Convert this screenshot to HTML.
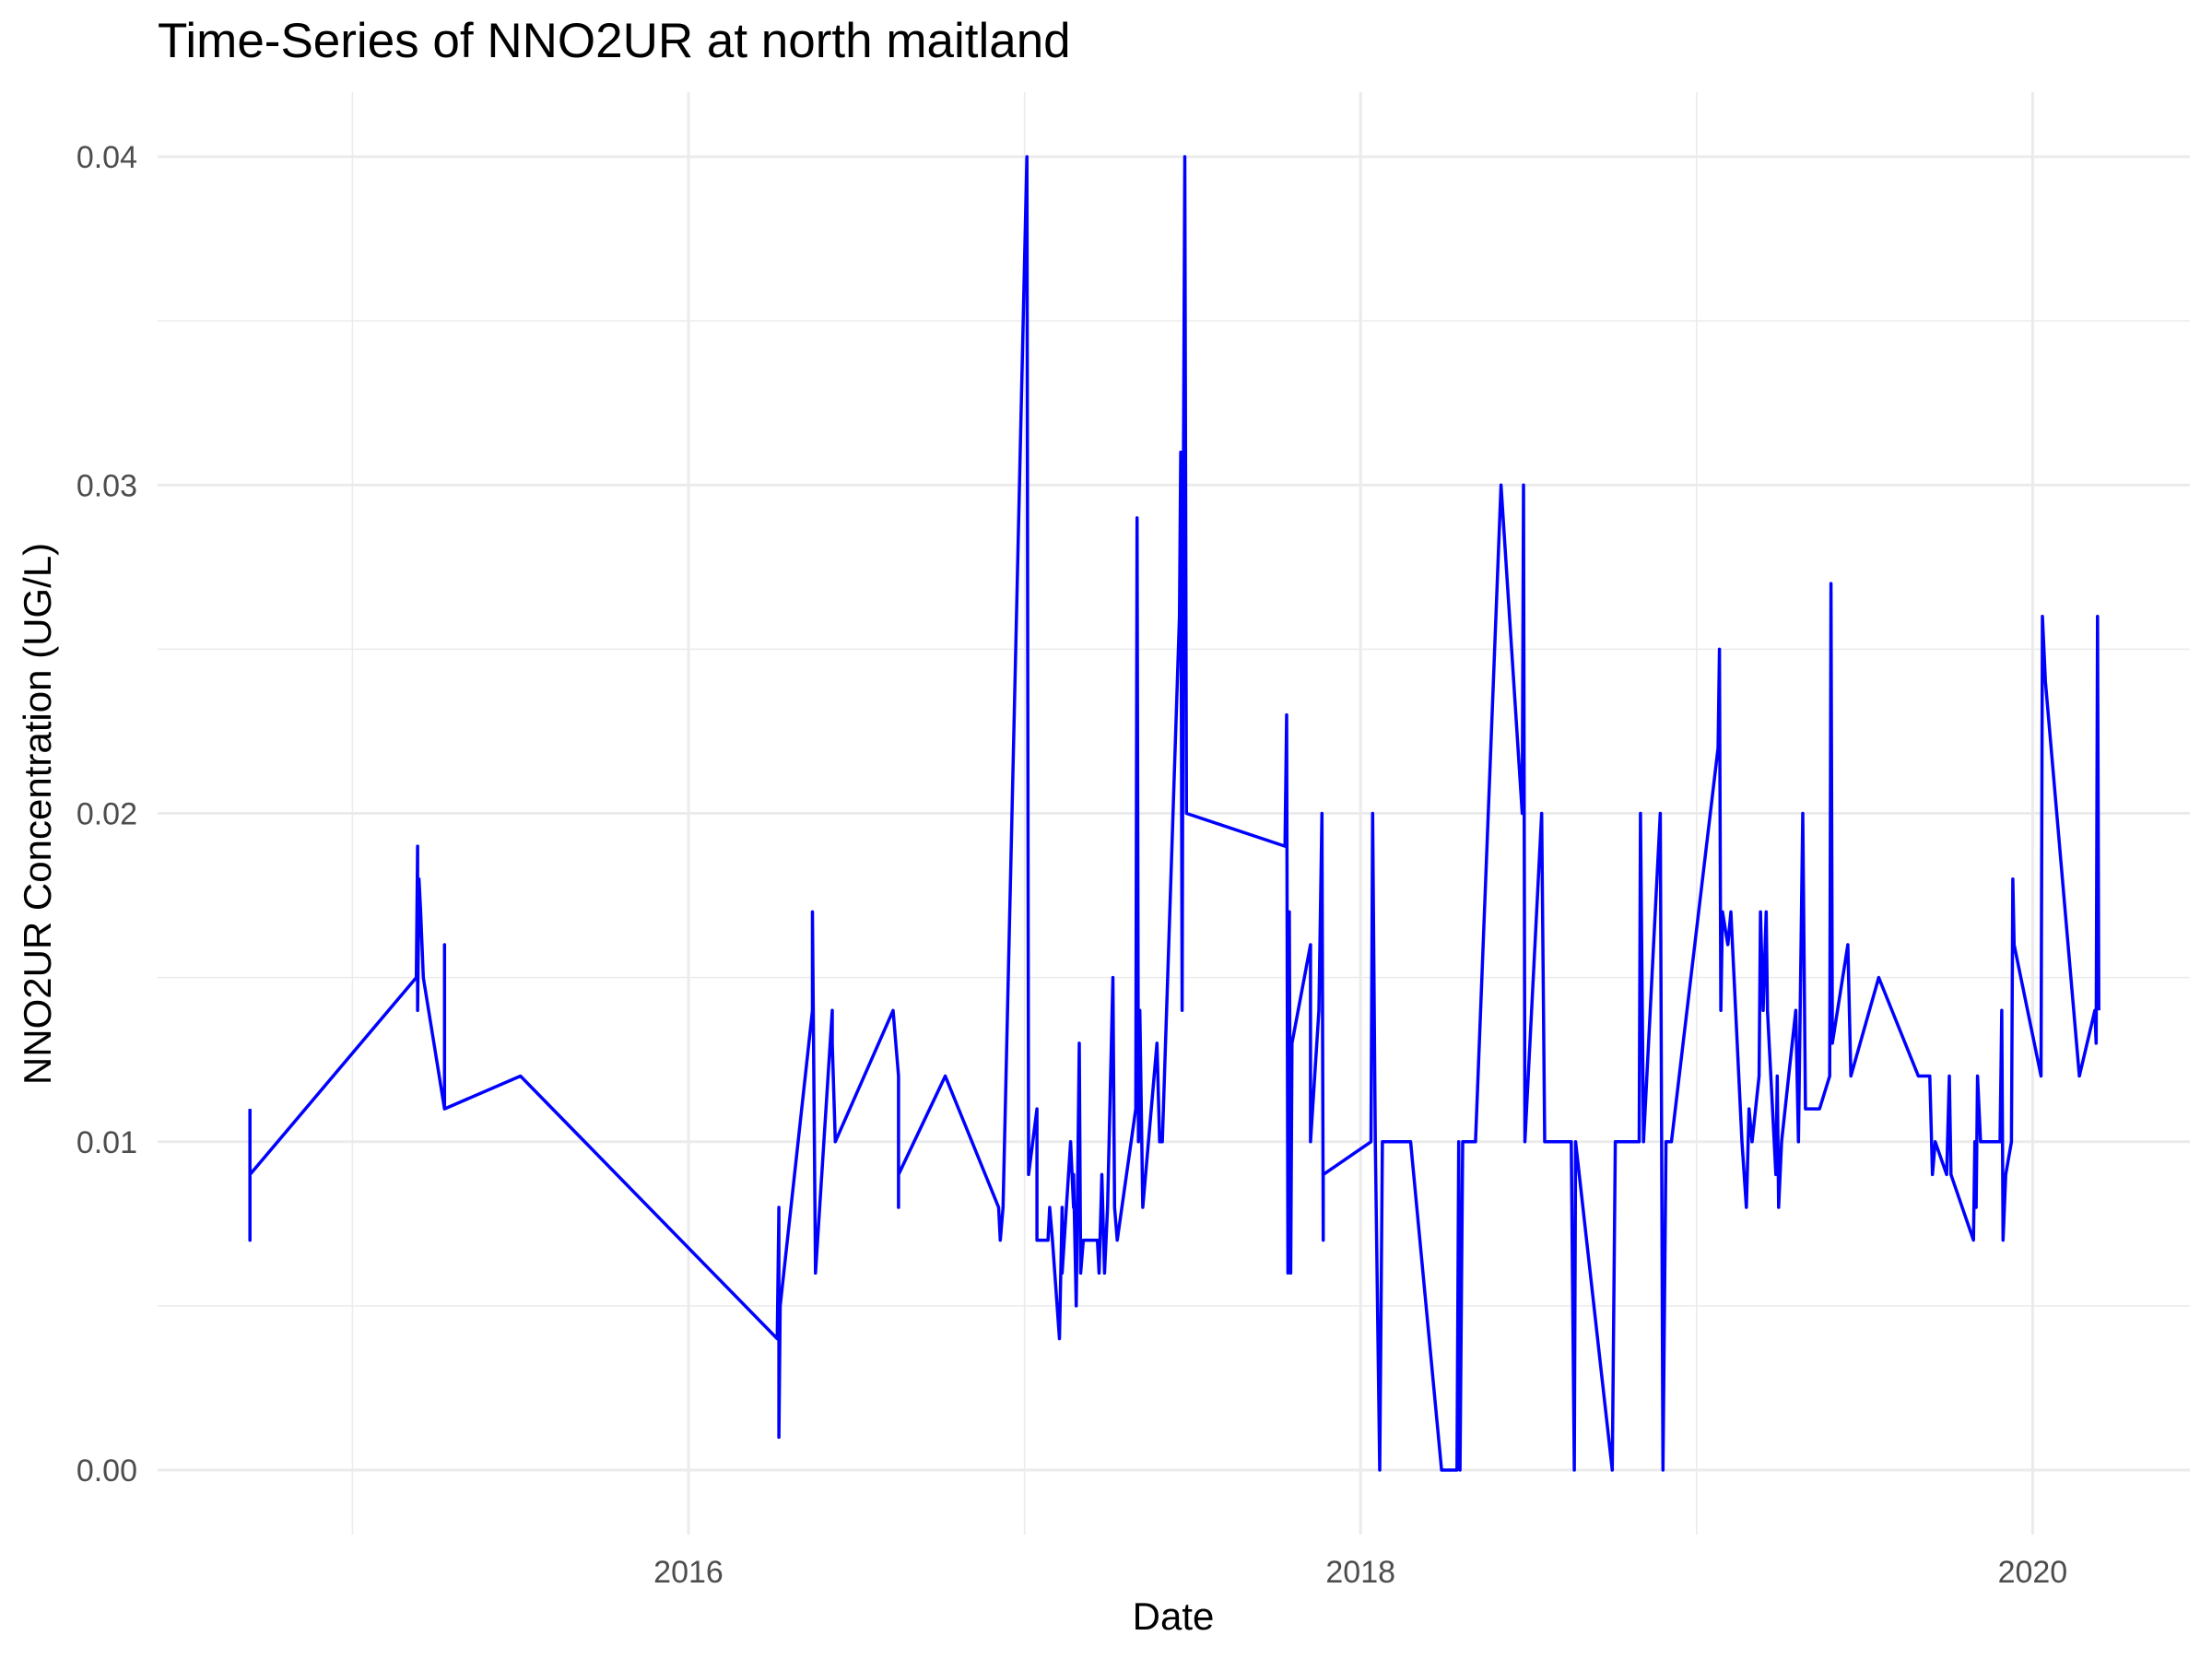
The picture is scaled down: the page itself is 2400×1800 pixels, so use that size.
<!DOCTYPE html>
<html><head><meta charset="utf-8"><style>
html,body{margin:0;padding:0;background:#fff;}
svg{display:block;font-family:"Liberation Sans",Arial,sans-serif;}
</style></head><body>
<svg id="chart" width="2400" height="1800" viewBox="0 0 2400 1800" xmlns="http://www.w3.org/2000/svg">
<rect width="2400" height="1800" fill="#fff"/>
<text x="171" y="62" font-size="53" fill="#000">Time-Series of NNO2UR at north maitland</text>
<g id="grid"></g>
<g id="ticks"></g>
<path id="series" fill="none" stroke="#0000ff" stroke-width="3.5" stroke-linejoin="round"/>
<text x="1273" y="1768" font-size="42" text-anchor="middle" fill="#000">Date</text>
<text transform="translate(55,883) rotate(-90)" font-size="42" text-anchor="middle" fill="#000">NNO2UR Concentration (UG/L)</text>
</svg>
<script>
const dates = [2014.695,2014.695,2014.695,2015.19,2015.194,2015.194,2015.198,2015.203,2015.211,2015.274,2015.274,2015.274,2015.50,
2016.264,2016.269,2016.269,2016.273,2016.369,2016.369,2016.378,2016.428,2016.428,2016.437,2016.609,2016.625,2016.625,2016.625,2016.764,
2016.923,2016.928,2016.936,2017.007,2017.012,2017.037,2017.037,2017.070,2017.075,2017.083,2017.104,2017.112,2017.112,
2017.137,2017.146,2017.146,2017.154,2017.163,2017.167,2017.175,2017.217,2017.222,2017.230,2017.238,2017.247,
2017.263,2017.268,2017.276,2017.331,2017.335,2017.339,2017.343,2017.352,2017.394,2017.402,2017.410,
2017.461,2017.465,2017.469,2017.473,2017.477,2017.482,2017.775,2017.780,2017.784,2017.788,2017.792,2017.796,
2017.851,2017.851,2017.876,2017.885,2017.889,2017.889,2018.031,2018.036,2018.044,2018.057,2018.065,2018.149,
2018.241,2018.287,2018.292,2018.296,2018.304,2018.342,2018.418,2018.481,2018.485,2018.489,2018.539,2018.548,
2018.627,2018.636,2018.640,2018.749,2018.758,2018.829,2018.833,2018.842,2018.892,2018.900,2018.909,2018.925,
2019.064,2019.068,2019.072,2019.077,2019.093,2019.102,2019.135,2019.148,2019.156,2019.165,
2019.186,2019.190,2019.198,2019.207,2019.211,2019.236,2019.240,2019.244,2019.253,
2019.295,2019.303,2019.316,2019.324,2019.366,2019.396,2019.400,2019.404,2019.450,2019.459,2019.542,
2019.660,2019.694,2019.702,2019.710,2019.744,2019.752,2019.757,2019.824,2019.828,2019.832,2019.836,2019.845,
2019.903,2019.908,2019.912,2019.920,2019.937,2019.941,2019.945,2020.025,2020.029,2020.038,
2020.139,2020.185,2020.189,2020.193,2020.197];
const values = [0.011,0.007,0.009,0.015,0.019,0.014,0.018,0.017,0.015,0.011,0.016,0.011,0.012,
0.004,0.008,0.001,0.005,0.014,0.017,0.006,0.014,0.013,0.010,0.014,0.012,0.008,0.009,0.012,
0.008,0.007,0.008,0.040,0.009,0.011,0.007,0.007,0.008,0.007,0.004,0.008,0.006,
0.010,0.008,0.009,0.005,0.013,0.006,0.007,0.007,0.006,0.009,0.006,0.008,
0.015,0.008,0.007,0.011,0.029,0.010,0.014,0.008,0.013,0.010,0.010,
0.026,0.031,0.014,0.031,0.040,0.020,0.019,0.023,0.006,0.017,0.006,0.013,
0.016,0.010,0.014,0.020,0.007,0.009,0.010,0.020,0.010,0.000,0.010,0.010,
0.000,0.000,0.010,0.000,0.010,0.010,0.030,0.020,0.030,0.010,0.020,0.010,
0.010,0.000,0.010,0.000,0.010,0.010,0.020,0.010,0.020,0.000,0.010,0.010,
0.022,0.025,0.014,0.017,0.016,0.017,0.010,0.008,0.011,0.010,
0.012,0.017,0.014,0.017,0.014,0.009,0.012,0.008,0.010,
0.014,0.010,0.020,0.011,0.011,0.012,0.027,0.013,0.016,0.012,0.015,
0.012,0.012,0.009,0.010,0.009,0.012,0.009,0.007,0.010,0.008,0.012,0.010,
0.010,0.014,0.007,0.009,0.010,0.018,0.016,0.012,0.026,0.024,
0.012,0.014,0.013,0.026,0.014];
const yTicks = [0, 0.01, 0.02, 0.03, 0.04];
const yTickLabels = ["0.00","0.01","0.02","0.03","0.04"];
const xTicks = [2016, 2018, 2020];
const xTickLabels = ["2016","2018","2020"];

const P = {left:171, right:2376, top:100, bottom:1665};
function xs(yr){ return 747 + (yr - 2016) * 364.6; }
function ys(v){ return 1595 - v * 35625; }
const NS = "http://www.w3.org/2000/svg";
const grid = document.getElementById('grid');
const ticks = document.getElementById('ticks');
function line(x1,y1,x2,y2,w,name){
  const l = document.createElementNS(NS,'line');
  l.setAttribute('x1',x1);l.setAttribute('y1',y1);l.setAttribute('x2',x2);l.setAttribute('y2',y2);
  l.setAttribute('stroke','#ebebeb');l.setAttribute('stroke-width',w);
  
  
  grid.appendChild(l);
}
[0.005,0.015,0.025,0.035].forEach(v=>line(P.left,ys(v),P.right,ys(v),1.5,'minor-gridline-y'));
[2015,2017,2019].forEach(yr=>line(xs(yr),P.top,xs(yr),P.bottom,1.5,'minor-gridline-x'));
yTicks.forEach(v=>line(P.left,ys(v),P.right,ys(v),3,'major-gridline-y'));
xTicks.forEach(yr=>line(xs(yr),P.top,xs(yr),P.bottom,3,'major-gridline-x'));
yTicks.forEach((v,i)=>{
  const t = document.createElementNS(NS,'text');
  t.setAttribute('x',149);t.setAttribute('y',ys(v)+12);
  t.setAttribute('text-anchor','end');t.setAttribute('font-size','34');t.setAttribute('fill','#4d4d4d');
  
  
  t.textContent = yTickLabels[i];
  ticks.appendChild(t);
});
xTicks.forEach((yr,i)=>{
  const t = document.createElementNS(NS,'text');
  t.setAttribute('x',xs(yr));t.setAttribute('y',1717);
  t.setAttribute('text-anchor','middle');t.setAttribute('font-size','34');t.setAttribute('fill','#4d4d4d');
  
  
  t.textContent = xTickLabels[i];
  ticks.appendChild(t);
});
let d = '';
dates.forEach((yr,i)=>{ d += (i?'L':'M') + xs(yr).toFixed(1) + ',' + ys(values[i]).toFixed(1); });
document.getElementById('series').setAttribute('d', d);
</script>
</body></html>
